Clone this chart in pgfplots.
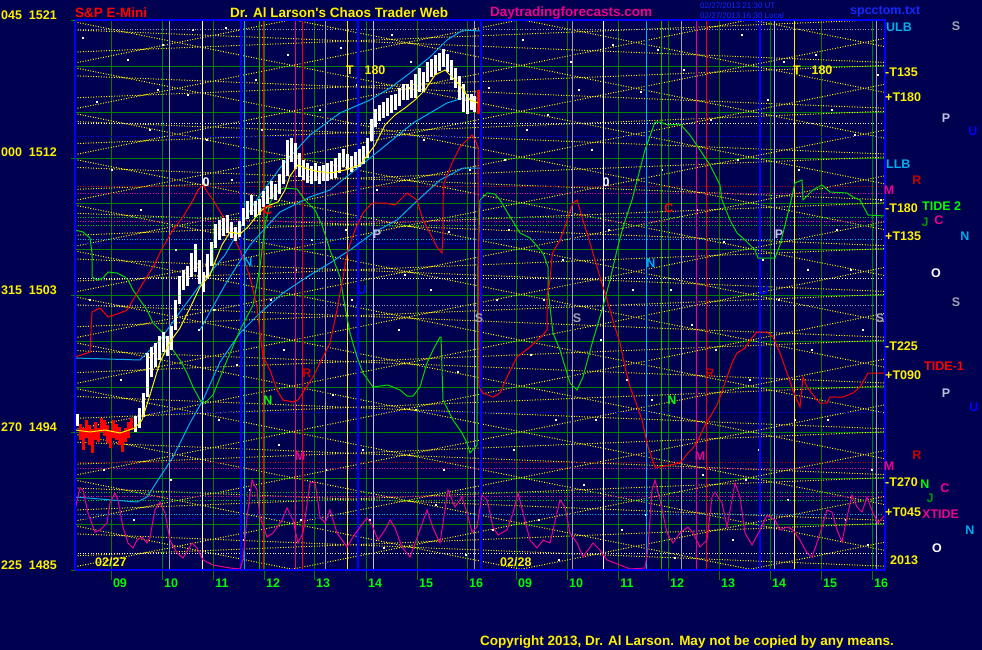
\documentclass[border=0pt]{standalone}
\usepackage{pgfplots}
\pgfplotsset{compat=1.18}
\usepackage{fontspec}
\setmainfont{Liberation Sans}
\definecolor{bg}{RGB}{0,0,80}
\definecolor{ggrid}{RGB}{0,128,0}
\definecolor{bgreen}{RGB}{0,255,0}
\definecolor{dred}{RGB}{200,0,0}
\definecolor{lav}{RGB}{190,190,225}
\definecolor{gry}{RGB}{160,160,176}
\definecolor{tblue}{RGB}{20,40,255}
\definecolor{dgreen}{RGB}{0,150,0}
\newcommand\lab{\fontsize{12.5}{13}\selectfont\bfseries}
\newcommand\tbig{\fontsize{13.5}{14}\selectfont\bfseries}
\begin{document}
\begin{tikzpicture}
\fill[bg] (0,0) rectangle (982pt,650pt);
\begin{axis}[
  at={(75pt,80pt)}, anchor=south west,
  scale only axis, width=810pt, height=550pt,
  xmin=75, xmax=885, ymin=20, ymax=570, y dir=reverse,
  clip mode=individual,
  axis line style={draw=none},
  xtick=\empty, ytick=\empty,
  unbounded coords=jump,
]
% green grid
\addplot[ggrid, line width=1pt] coordinates {
(111,20)(111,570) (nan,nan) (162,20)(162,570) (nan,nan) (213,20)(213,570) (nan,nan) (264,20)(264,570) (nan,nan)
(314,20)(314,570) (nan,nan) (366,20)(366,570) (nan,nan) (417,20)(417,570) (nan,nan) (467,20)(467,570) (nan,nan)
(516,20)(516,570) (nan,nan) (567,20)(567,570) (nan,nan) (618,20)(618,570) (nan,nan) (668,20)(668,570) (nan,nan)
(719,20)(719,570) (nan,nan) (770,20)(770,570) (nan,nan) (821,20)(821,570) (nan,nan) (872,20)(872,570) (nan,nan)
(75,20.7)(885,20.7) (nan,nan) (75,66.5)(885,66.5) (nan,nan) (75,112.3)(885,112.3) (nan,nan) (75,158)(885,158) (nan,nan)
(75,203.8)(885,203.8) (nan,nan) (75,249.6)(885,249.6) (nan,nan) (75,295.4)(885,295.4) (nan,nan) (75,341.2)(885,341.2) (nan,nan)
(75,387)(885,387) (nan,nan) (75,432.8)(885,432.8) (nan,nan) (75,478.6)(885,478.6) (nan,nan) (75,524.4)(885,524.4) (nan,nan)
(75,570)(885,570)
};
% scattered dots
\addplot[only marks, mark=square*, mark size=0.5pt, white] coordinates {
(83,38)(97,102)(112,170)(128,60)(141,210)(150,130)(163,45)(176,250)(188,95)(199,330)(207,140)(219,420)(226,28)(237,365)(250,490)(256,80)(271,300)(279,445)(288,55)(301,520)(312,240)(320,110)(333,395)(341,48)(352,300)(363,450)(377,190)(384,548)(392,35)(405,275)(416,410)(424,140)(436,505)(449,232)(458,372)(466,555)(489,88)(497,300)(505,160)(514,450)(523,40)(531,355)(539,520)(548,115)(556,420)(563,260)(571,62)(584,485)(592,150)(601,340)(613,45)(622,530)(633,290)(641,92)(652,400)(662,170)(675,558)(684,70)(692,325)(703,475)(711,120)(724,242)(733,540)(742,35)(750,380)(759,450)(768,100)(779,300)(788,500)(799,170)(808,270)(816,55)(828,420)(837,230)(846,520)(855,135)(863,330)(872,470)(878,75)
(90,300)(104,470)(121,380)(134,520)(158,90)(171,480)(193,30)(214,310)(232,180)(244,540)(262,130)(284,350)(296,270)(326,470)(346,230)(357,85)(370,520)(399,330)(411,62)(431,290)(444,470)(470,170)(493,530)(509,230)(527,130)(544,300)(559,560)(579,90)(596,420)(609,230)(627,380)(646,515)(658,50)(671,290)(697,210)(716,350)(738,160)(746,480)(763,260)(784,62)(795,420)(812,350)(832,110)(851,270)(868,545)(881,200)
};
% yellow lattice
\addplot[yellow, line width=1pt, dash pattern=on 1pt off 1.6pt] coordinates {
(75,-115.4)(885,46.6) (nan,nan) (75,-69.6)(885,92.4) (nan,nan) (75,-23.8)(885,138.2) (nan,nan)
(75,22)(885,184) (nan,nan) (75,67.8)(885,229.8) (nan,nan) (75,113.6)(885,275.6) (nan,nan)
(75,159.4)(885,321.4) (nan,nan) (75,205.2)(885,367.2) (nan,nan) (75,251)(885,413) (nan,nan)
(75,296.8)(885,458.8) (nan,nan) (75,342.6)(885,504.6) (nan,nan) (75,388.4)(885,550.4) (nan,nan)
(75,434.2)(885,596.2) (nan,nan) (75,480)(885,642) (nan,nan) (75,525.8)(885,687.8) (nan,nan)
(75,63)(885,-99) (nan,nan) (75,108.8)(885,-53.2) (nan,nan) (75,154.6)(885,-7.4) (nan,nan)
(75,200.4)(885,38.4) (nan,nan) (75,246.2)(885,84.2) (nan,nan) (75,292)(885,130) (nan,nan)
(75,337.8)(885,175.8) (nan,nan) (75,383.6)(885,221.6) (nan,nan) (75,429.4)(885,267.4) (nan,nan)
(75,475.2)(885,313.2) (nan,nan) (75,521)(885,359) (nan,nan) (75,566.8)(885,404.8) (nan,nan)
(75,612.6)(885,450.6) (nan,nan) (75,658.4)(885,496.4) (nan,nan) (75,704.2)(885,542.2) (nan,nan)
(75,750)(885,588) (nan,nan)
(75,30)(885,62.4) (nan,nan) (75,75.8)(885,108.2) (nan,nan) (75,121.6)(885,154) (nan,nan)
(75,167.4)(885,199.8) (nan,nan) (75,213.2)(885,245.6) (nan,nan) (75,259)(885,291.4) (nan,nan)
(75,304.8)(885,337.2) (nan,nan) (75,350.6)(885,383) (nan,nan) (75,396.4)(885,428.8) (nan,nan)
(75,442.2)(885,474.6) (nan,nan) (75,488)(885,520.4) (nan,nan) (75,533.8)(885,566.2) (nan,nan)
(75,52)(885,19.6) (nan,nan) (75,97.8)(885,65.4) (nan,nan) (75,143.6)(885,111.2) (nan,nan)
(75,189.4)(885,157) (nan,nan) (75,235.2)(885,202.8) (nan,nan) (75,281)(885,248.6) (nan,nan)
(75,326.8)(885,294.4) (nan,nan) (75,372.6)(885,340.2) (nan,nan) (75,418.4)(885,386) (nan,nan)
(75,464.2)(885,431.8) (nan,nan) (75,510)(885,477.6) (nan,nan) (75,555.8)(885,523.4) (nan,nan)
(75,601.6)(885,569.2)
};
% horizontal dotted lines
\addplot[gry, line width=1pt, dash pattern=on 1pt off 1.6pt] coordinates {(75,30)(885,30) (nan,nan) (75,305)(885,305)};
\addplot[white, line width=1pt, dash pattern=on 1pt off 1.6pt] coordinates {(75,123)(885,123) (nan,nan) (75,278)(885,278) (nan,nan) (75,553)(885,553)};
\addplot[blue, line width=1pt, dash pattern=on 1pt off 1.6pt] coordinates {(75,136)(885,136) (nan,nan) (75,243)(478,243) (nan,nan) (75,412)(885,412) (nan,nan) (75,518)(478,518)};
\addplot[dred, line width=1pt, dash pattern=on 1pt off 1.6pt] coordinates {(75,186)(885,186) (nan,nan) (75,462)(885,462)};
\addplot[magenta, line width=1pt, dash pattern=on 1pt off 1.6pt] coordinates {(75,193)(885,193) (nan,nan) (75,221)(885,221) (nan,nan) (75,468)(885,468) (nan,nan) (75,496)(885,496)};
\addplot[green!80!black, line width=1pt, dash pattern=on 1pt off 1.6pt] coordinates {(75,217)(885,217) (nan,nan) (75,225)(885,225) (nan,nan) (75,492)(885,492) (nan,nan) (75,500)(885,500)};
\addplot[cyan, line width=1pt, dash pattern=on 1pt off 1.6pt] coordinates {(75,239)(885,239) (nan,nan) (75,514)(885,514)};
% vertical coloured lines
\addplot[gry, line width=1pt] coordinates {(169,20)(169,570) (nan,nan) (325,20)(325,570) (nan,nan) (474,20)(474,570) (nan,nan) (572,20)(572,570) (nan,nan) (681,20)(681,570) (nan,nan) (876,20)(876,570)};
\addplot[lav, line width=1pt] coordinates {(373,20)(373,570) (nan,nan) (774,20)(774,570)};
\addplot[white, line width=1pt] coordinates {(202,20)(202,570) (nan,nan) (603,20)(603,570)};
\addplot[blue, line width=1.5pt] coordinates {(241,20)(241,570) (nan,nan) (358,20)(358,570) (nan,nan) (760,20)(760,570)};
\addplot[blue, line width=2.5pt] coordinates {(481,20)(481,570)};
\addplot[cyan, line width=1pt] coordinates {(244,20)(244,570) (nan,nan) (646,20)(646,570)};
\addplot[green!75!black, line width=1pt] coordinates {(259,20)(259,570) (nan,nan) (661,20)(661,570)};
\addplot[red, line width=1pt] coordinates {(263,20)(263,570) (nan,nan) (302,20)(302,570) (nan,nan) (706,20)(706,570)};
\addplot[magenta, line width=1pt] coordinates {(295,20)(295,570) (nan,nan) (696,20)(696,570)};
\addplot[yellow, line width=1pt] coordinates {(347,20)(347,570) (nan,nan) (794,20)(794,570)};
% cyan moving averages
\addplot[cyan, line width=1pt] coordinates {(75,358)(140,360)(160,340)(180,312)(200,285)(225,255)(253,205)(280,168)(310,135)(340,113)(370,100)(390,88)(410,73)(430,57)(447,40)(463,30)(480,31)};
\addplot[cyan, line width=1pt] coordinates {(75,497)(137,502)(147,497)(160,477)(173,457)(190,423)(203,400)(220,362)(240,333)(260,313)(283,293)(307,277)(330,263)(350,250)(373,233)(397,220)(418,200)(440,180)(463,168)(480,168)};
\addplot[cyan, line width=1pt] coordinates {(200,330)(225,285)(250,245)(280,212)(310,197)(330,190)(380,150)(413,123)(447,103)(463,98)(480,98)};
% magenta oscillator
\addplot[magenta, line width=1pt] coordinates {
(75,510)(80,488)(83,490)(88,513)(95,532)(100,530)(107,523)(110,503)(115,493)(118,500)(123,527)(128,543)(133,548)(137,540)(142,537)(147,543)(150,537)(155,510)(160,502)(165,513)(170,540)(177,553)(183,558)(192,543)(197,548)(203,560)(213,565)(230,568)(240,569)(243,560)(247,517)(252,480)(257,490)(260,517)(267,537)(273,533)(282,520)(287,508)(293,520)(298,543)(303,533)(310,483)(315,482)(320,517)(325,523)(330,510)
(337,533)(347,547)(353,537)(360,527)(367,518)(372,525)(378,540)(385,530)(390,520)(395,528)(402,547)(410,557)(417,538)(427,510)(433,528)(440,543)(445,510)(448,490)(455,507)(462,497)(467,513)(472,532)(477,527)(482,495)(487,500)(493,527)(498,535)(507,530)(513,513)(518,493)(523,513)(530,540)(537,548)(543,540)(550,543)(560,500)(565,507)(570,533)(577,543)(583,557)(593,543)(600,550)(607,560)(620,565)(630,569)(645,568)(648,547)(652,490)(655,480)(660,500)
(667,533)(673,543)(680,533)(688,527)(693,533)(700,547)(707,540)(712,497)(715,492)(722,503)(727,527)(735,483)(740,497)(745,533)(752,545)(760,530)(767,515)(775,520)(780,530)(787,527)(793,530)(800,540)(807,553)(812,557)(818,540)(827,510)(832,512)(837,530)(842,542)(847,517)(852,495)(857,507)(862,512)(867,497)(873,513)(878,523)(885,515)};
% green oscillator (TIDE 2)
\addplot[bgreen!85!black, line width=1pt] coordinates {
(75,230)(83,232)(90,238)(92,253)(92,277)(97,280)(103,278)(108,272)(117,273)(125,277)(128,280)(133,290)(140,300)(147,310)(153,323)(163,333)(173,350)(180,360)(187,373)(193,387)(200,400)(205,403)(213,395)(225,365)(240,330)(253,305)(260,267)(265,225)(270,203)(275,193)(283,188)(297,189)(305,200)(315,210)(322,225)(330,250)(340,277)(345,307)(350,333)(357,357)(363,373)(373,387)(388,385)(400,390)(407,396)(413,396)(420,387)(427,363)(433,350)(440,337)(441,337)(443,400)(453,420)(462,433)(467,443)(470,453)(477,445)(478,265)(480,200)(487,193)(495,194)(500,200)(512,220)(520,233)(530,238)(543,253)(548,267)(548,290)(553,333)(560,350)(570,383)(577,390)(583,377)(593,340)(602,310)(610,280)(617,250)(623,227)(632,200)(645,150)(655,122)(660,122)(668,125)(680,124)(690,135)(700,150)(710,165)(720,185)(722,200)(730,220)(737,233)(745,240)(755,250)(758,258)(775,258)(780,245)(785,225)(790,205)(795,183)(802,180)(803,200)(813,190)(822,185)(830,192)(847,193)(853,197)(860,200)(868,215)(885,216)};
% red oscillator (TIDE 1)
\addplot[red, line width=1pt] coordinates {
(75,357)(90,352)(92,312)(100,308)(108,317)(120,313)(127,310)(133,300)(143,283)(153,267)(163,247)(173,230)(183,217)(193,200)(198,190)(203,185)(208,193)(213,200)(227,223)(240,250)(250,277)(257,307)(260,333)(263,357)(270,370)(277,390)(283,400)(293,402)(298,400)(300,397)(313,377)(323,357)(330,343)(337,310)(343,277)(348,250)(355,230)(363,213)(372,203)(385,203)(395,205)(400,200)(407,193)(417,200)(423,220)(430,233)(437,247)(442,253)(443,233)(443,200)(444,183)(452,163)(460,147)(467,140)(472,135)(475,140)(478,147)(479,387)(483,393)(493,397)(500,393)(507,377)(517,357)(530,347)(543,335)(547,330)(547,297)(550,280)(552,257)(553,252)(560,240)(565,227)(568,217)(573,203)(577,200)(580,210)(585,227)(590,243)(595,260)(600,277)(605,293)(610,310)(615,327)(620,343)(625,367)(630,387)(635,400)(642,420)(648,447)(655,467)(660,467)(670,465)(680,463)(688,453)(693,448)(698,440)(705,425)(710,417)(717,405)(720,397)(727,377)(732,363)(737,353)(745,348)(750,340)(757,332)(767,332)(773,337)(780,353)(787,373)(793,390)(797,400)(800,407)(803,377)(807,387)(817,400)(820,403)(827,403)(830,397)(843,397)(853,393)(860,387)(868,373)(885,373)};
% price bars
\addplot[draw=none, mark=none, error bars/.cd, y dir=both, y explicit, error mark=none, error bar style={draw=red, solid, line width=3pt}] table[x=x, y=y, y error=e] {
x y e
80 432 8
83 439 11
86 429 9
89 435 10
92 441 12
95 431 9
98 435 7
101 425 7
104 428 8
107 434 9
110 439 9
113 429 9
116 432 8
119 436 9
122 442 10
125 435 7
128 430 8
131 424 6
478 102 12
};
\addplot[draw=none, mark=none, error bars/.cd, y dir=both, y explicit, error mark=none, error bar style={draw=white, solid, line width=3pt}] table[x=x, y=y, y error=e] {
x y e
77 420 6
135 424 8
139 418 10
143 405 12
147 375 22
151 362 15
155 355 12
159 348 12
163 342 10
167 346 10
171 338 12
175 315 15
179 290 14
183 280 10
187 276 10
191 265 12
195 258 14
199 272 12
203 282 10
207 266 12
211 254 12
215 236 12
219 230 10
223 227 9
227 224 9
231 230 8
235 234 7
239 229 8
243 217 9
247 210 9
251 205 10
255 209 8
259 207 8
263 199 8
267 195 9
271 190 9
275 192 8
279 184 10
283 172 12
287 158 18
291 150 12
295 156 13
299 165 12
303 170 10
307 173 10
311 175 9
315 172 9
319 175 9
323 173 8
327 172 9
331 170 9
335 168 10
339 163 10
343 158 9
347 162 8
351 164 8
355 160 8
359 158 9
363 155 9
367 148 10
371 130 11
375 118 9
379 113 8
383 110 8
387 107 9
391 104 9
395 102 8
399 97 9
403 92 8
407 92 8
411 89 9
415 86 12
419 80 12
423 82 10
427 72 10
431 68 9
435 65 10
439 62 9
443 58 9
447 63 9
451 70 10
455 78 10
459 88 12
463 98 14
467 104 10
471 102 8
474 104 8
};
% yellow moving average
\addplot[yellow, line width=1pt] coordinates {(75,430)(90,432)(105,430)(120,433)(135,428)(142,420)(150,395)(160,362)(170,342)(180,328)(190,308)(200,287)(210,275)(215,262)(222,245)(230,232)(240,234)(248,227)(255,218)(262,210)(270,205)(278,202)(285,190)(290,176)(298,165)(305,168)(315,171)(330,173)(345,170)(360,165)(375,145)(385,125)(395,115)(405,108)(415,100)(425,90)(435,75)(445,70)(455,80)(462,88)(470,100)(478,103)};
% border and tick extensions
\draw[blue, line width=2.5pt] (axis cs:75,20) rectangle (axis cs:885,570);
\draw[ggrid, line width=1pt] (axis cs:71,20.7) -- (axis cs:75,20.7) (axis cs:71,158) -- (axis cs:75,158) (axis cs:71,295.4) -- (axis cs:75,295.4) (axis cs:71,432.8) -- (axis cs:75,432.8) (axis cs:71,570) -- (axis cs:75,570)
 (axis cs:111,571) -- (axis cs:111,580) (axis cs:162,571) -- (axis cs:162,580) (axis cs:213,571) -- (axis cs:213,580) (axis cs:264,571) -- (axis cs:264,580)
 (axis cs:314,571) -- (axis cs:314,580) (axis cs:366,571) -- (axis cs:366,580) (axis cs:417,571) -- (axis cs:417,580) (axis cs:467,571) -- (axis cs:467,580)
 (axis cs:516,571) -- (axis cs:516,580) (axis cs:567,571) -- (axis cs:567,580) (axis cs:618,571) -- (axis cs:618,580) (axis cs:668,571) -- (axis cs:668,580)
 (axis cs:719,571) -- (axis cs:719,580) (axis cs:770,571) -- (axis cs:770,580) (axis cs:821,571) -- (axis cs:821,580) (axis cs:872,571) -- (axis cs:872,580);
% titles
\node[anchor=west, red, inner sep=0] at (axis cs:75,13) {\tbig S\&P E-Mini};
\node[anchor=west, yellow, inner sep=0] at (axis cs:230,13) {\tbig Dr. Al Larson\textquotesingle s Chaos Trader Web};
\node[anchor=west, magenta, inner sep=0] at (axis cs:490,13) {\tbig Daytradingforecasts.com};
\node[anchor=west, tblue, inner sep=0] at (axis cs:700,6) {\fontsize{8}{8}\selectfont 02/27/2013 21:30 UT};
\node[anchor=west, tblue, inner sep=0] at (axis cs:700,15.5) {\fontsize{8}{8}\selectfont 02/27/2013 16:30 Local};
\node[anchor=west, tblue, inner sep=0] at (axis cs:850,12) {\lab spcctom.txt};
\node[anchor=west, yellow, inner sep=0] at (axis cs:480,642) {\tbig Copyright 2013, Dr. Al Larson. May not be copied by any means.};
% left labels
\node[anchor=west, yellow, inner sep=0] at (axis cs:1,15) {\lab 045\ \ 1521};
\node[anchor=west, yellow, inner sep=0] at (axis cs:1,152) {\lab 000\ \ 1512};
\node[anchor=west, yellow, inner sep=0] at (axis cs:1,290) {\lab 315\ \ 1503};
\node[anchor=west, yellow, inner sep=0] at (axis cs:1,427) {\lab 270\ \ 1494};
\node[anchor=west, yellow, inner sep=0] at (axis cs:1,565) {\lab 225\ \ 1485};
% hour labels
\node[bgreen, inner sep=0] at (axis cs:120,583) {\lab 09};
\node[bgreen, inner sep=0] at (axis cs:171,583) {\lab 10};
\node[bgreen, inner sep=0] at (axis cs:222,583) {\lab 11};
\node[bgreen, inner sep=0] at (axis cs:273,583) {\lab 12};
\node[bgreen, inner sep=0] at (axis cs:323,583) {\lab 13};
\node[bgreen, inner sep=0] at (axis cs:375,583) {\lab 14};
\node[bgreen, inner sep=0] at (axis cs:426,583) {\lab 15};
\node[bgreen, inner sep=0] at (axis cs:476,583) {\lab 16};
\node[bgreen, inner sep=0] at (axis cs:525,583) {\lab 09};
\node[bgreen, inner sep=0] at (axis cs:576,583) {\lab 10};
\node[bgreen, inner sep=0] at (axis cs:627,583) {\lab 11};
\node[bgreen, inner sep=0] at (axis cs:677,583) {\lab 12};
\node[bgreen, inner sep=0] at (axis cs:728,583) {\lab 13};
\node[bgreen, inner sep=0] at (axis cs:779,583) {\lab 14};
\node[bgreen, inner sep=0] at (axis cs:830,583) {\lab 15};
\node[bgreen, inner sep=0] at (axis cs:881,583) {\lab 16};
% in-plot labels
\node[anchor=west, yellow, inner sep=0] at (axis cs:95,562) {\lab 02/27};
\node[anchor=west, yellow, inner sep=0] at (axis cs:500,562) {\lab 02/28};
\node[anchor=west, yellow, inner sep=0] at (axis cs:890,560) {\lab 2013};
\node[white, inner sep=0] at (axis cs:206,182) {\lab 0};
\node[white, inner sep=0] at (axis cs:606,182) {\lab 0};
\node[yellow, inner sep=0] at (axis cs:350,70) {\lab T};
\node[yellow, inner sep=0] at (axis cs:375,70) {\lab 180};
\node[yellow, inner sep=0] at (axis cs:797,70) {\lab T};
\node[yellow, inner sep=0] at (axis cs:822,70) {\lab 180};
\node[cyan, inner sep=0] at (axis cs:248,262) {\lab N};
\node[cyan, inner sep=0] at (axis cs:651,263) {\lab N};
\node[lav, inner sep=0] at (axis cs:377,234) {\lab P};
\node[lav, inner sep=0] at (axis cs:779,234) {\lab P};
\node[blue, inner sep=0] at (axis cs:362,290) {\lab U};
\node[blue, inner sep=0] at (axis cs:764,290) {\lab U};
\node[gry, inner sep=0] at (axis cs:479,318) {\lab S};
\node[gry, inner sep=0] at (axis cs:577,318) {\lab S};
\node[gry, inner sep=0] at (axis cs:880,318) {\lab S};
\node[dred, inner sep=0] at (axis cs:307,373) {\lab R};
\node[dred, inner sep=0] at (axis cs:710,373) {\lab R};
\node[bgreen, inner sep=0] at (axis cs:268,400) {\lab N};
\node[bgreen, inner sep=0] at (axis cs:672,400) {\lab N};
\node[magenta, inner sep=0] at (axis cs:300,456) {\lab M};
\node[magenta, inner sep=0] at (axis cs:700,456) {\lab M};
\node[red, inner sep=0] at (axis cs:268,210) {\lab C};
\node[red, inner sep=0] at (axis cs:669,208) {\lab C};
% right labels
\node[anchor=west, cyan, inner sep=0] at (axis cs:886,27) {\lab ULB};
\node[gry, inner sep=0] at (axis cs:956,26) {\lab S};
\node[anchor=west, yellow, inner sep=0] at (axis cs:885,72) {\lab -T135};
\node[anchor=west, yellow, inner sep=0] at (axis cs:885,97) {\lab +T180};
\node[lav, inner sep=0] at (axis cs:946,118) {\lab P};
\node[blue, inner sep=0] at (axis cs:973,131) {\lab U};
\node[anchor=west, cyan, inner sep=0] at (axis cs:886,164) {\lab LLB};
\node[dred, inner sep=0] at (axis cs:917,180) {\lab R};
\node[magenta, inner sep=0] at (axis cs:889,190) {\lab M};
\node[anchor=west, yellow, inner sep=0] at (axis cs:885,208) {\lab -T180};
\node[anchor=west, bgreen, inner sep=0] at (axis cs:922,206) {\lab TIDE 2};
\node[dgreen, inner sep=0] at (axis cs:925,222) {\lab J};
\node[magenta, inner sep=0] at (axis cs:939,220) {\lab C};
\node[anchor=west, yellow, inner sep=0] at (axis cs:885,236) {\lab +T135};
\node[cyan, inner sep=0] at (axis cs:965,236) {\lab N};
\node[white, inner sep=0] at (axis cs:936,273) {\lab O};
\node[gry, inner sep=0] at (axis cs:956,302) {\lab S};
\node[anchor=west, yellow, inner sep=0] at (axis cs:885,346) {\lab -T225};
\node[anchor=west, red, inner sep=0] at (axis cs:924,366) {\lab TIDE-1};
\node[anchor=west, yellow, inner sep=0] at (axis cs:885,375) {\lab +T090};
\node[lav, inner sep=0] at (axis cs:946,393) {\lab P};
\node[blue, inner sep=0] at (axis cs:974,407) {\lab U};
\node[dred, inner sep=0] at (axis cs:917,455) {\lab R};
\node[magenta, inner sep=0] at (axis cs:889,466) {\lab M};
\node[anchor=west, yellow, inner sep=0] at (axis cs:885,482) {\lab -T270};
\node[bgreen, inner sep=0] at (axis cs:925,484) {\lab N};
\node[dgreen, inner sep=0] at (axis cs:930,498) {\lab J};
\node[magenta, inner sep=0] at (axis cs:945,488) {\lab C};
\node[anchor=west, yellow, inner sep=0] at (axis cs:885,512) {\lab +T045};
\node[anchor=west, magenta, inner sep=0] at (axis cs:922,514) {\lab XTIDE};
\node[cyan, inner sep=0] at (axis cs:970,530) {\lab N};
\node[white, inner sep=0] at (axis cs:937,548) {\lab O};
\end{axis}
\end{tikzpicture}
\end{document}
